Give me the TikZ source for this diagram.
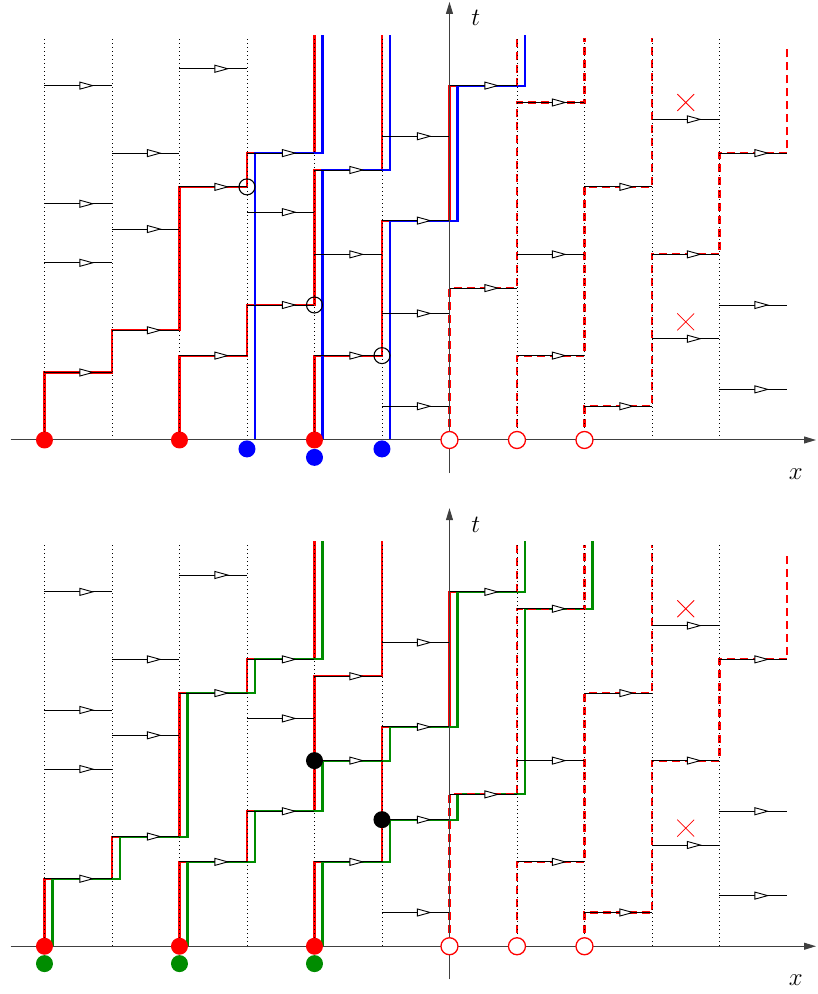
\documentclass[tikz,border=0pt]{standalone}
\usetikzlibrary{arrows.meta, decorations.markings}

\newcommand{\labelfont}{\fontsize{34}{40}\selectfont}

% clocks, holes and axes shared by both panels
\newcommand{\clockpanel}[1]{%
  \draw[hole] (0,0) -- (0,9) -- (1,9) -- (1,20) -- (2,20) -- (2,23.8);
  \draw[hole] (1,0) -- (1,5) -- (2,5) -- (2,15) -- (3,15) -- (3,23.8);
  \draw[hole] (2,0) -- (2,2) -- (3,2) -- (3,11) -- (4,11) -- (4,17) -- (5,17) -- (5,23.4);
  \draw[hole] (1,21) -- (1,23.8);
  \foreach \i in {-6,...,-1,1,2,3,4}
    \draw[column] (\i,0) -- (\i,23.8);
  \foreach \i/\t in {-6/21,-6/14,-6/10.5,-6/4, -5/17,-5/12.5,-5/6.5,
                     -4/22,-4/15,-4/5, -3/17,-3/13.5,-3/8, -2/16,-2/11,-2/5,
                     -1/18,-1/13,-1/7.5,-1/2, 0/21,0/9, 1/20,1/11,1/5,
                     2/15,2/2, 3/19,3/11,3/6, 4/17,4/8,4/3}
    \draw[clock] (\i,\t) -- ++(1,0);
  \foreach \t in {20,7}
    \draw[cross] (3.375,\t-0.5) -- (3.625,\t+0.5) (3.375,\t+0.5) -- (3.625,\t-0.5);
  \draw[axis] (-6.5,0) -- (5.43,0);
  \draw[axis] (0,-1.96) -- (0,25.96);
  \node[font=\labelfont] (t#1) at (0.39,25) {$t$};
  \node[font=\labelfont] (x#1) at (5.13,-2) {$x$};
  \foreach \i in {0,1,2}
    \node[site, draw=red, fill=white, line width=1.3pt] (h#1\i) at (\i,0) {};
}

\begin{document}
\begin{tikzpicture}[x=67.5pt, y=16.875pt,
    column/.style={line width=0.9pt, dash pattern=on 0.9pt off 3.1pt},
    clock/.style={line width=0.9pt, postaction=decorate,
      decoration={markings, mark=at position 0.74 with
        {\arrow{Triangle[length=15pt, width=8pt, fill=white]}}}},
    axis/.style={black!75, line width=1pt, -{Triangle[length=12pt, width=7pt]}},
    walk/.style={line width=2.1pt},
    hole/.style={red, line width=2.1pt, dash pattern=on 8pt off 5pt},
    cross/.style={red, line width=0.8pt},
    site/.style={circle, inner sep=0pt, minimum size=17pt},
    ring/.style={circle, draw, line width=1.1pt, inner sep=0pt, minimum size=16pt},
  ]
  \useasboundingbox (-6.659,-32.83) rectangle (5.459,26.074);

  % upper panel
  \draw[walk, red] (-6,0) -- (-6,4) -- (-5,4) -- (-5,6.5) -- (-4,6.5) -- (-4,15)
    -- (-3,15) -- (-3,17) -- (-2,17) -- (-2,24);
  \draw[walk, red] (-4,0) -- (-4,5) -- (-3,5) -- (-3,8) -- (-2,8) -- (-2,16)
    -- (-1,16) -- (-1,24);
  \draw[walk, red] (-2,0) -- (-2,5) -- (-1,5) -- (-1,13) -- (0,13) -- (0,21) -- (1,21);
  \begin{scope}[xshift=8pt]
    \draw[walk, blue] (-3,0) -- (-3,17) -- (-2,17) -- (-2,24);
    \draw[walk, blue] (-2,0) -- (-2,16) -- (-1,16) -- (-1,24);
    \draw[walk, blue] (-1,0) -- (-1,13) -- (0,13) -- (0,21) -- (1,21) -- (1,24);
  \end{scope}
  \clockpanel{a}
  \foreach \i in {-6,-4,-2}
    \node[site, fill=red] (ra\i) at (\i,0) {};
  \node[site, fill=blue] (b1) at (-3,-0.53) {};
  \node[site, fill=blue] (b2) at (-2,-1.03) {};
  \node[site, fill=blue] (b3) at (-1,-0.53) {};
  \node[ring] (c1) at (-3,15) {};
  \node[ring] (c2) at (-2,8) {};
  \node[ring] (c3) at (-1,5) {};

  % lower panel
  \begin{scope}[shift={(0,-30)}]
    \draw[walk, red] (-6,0) -- (-6,4) -- (-5,4) -- (-5,6.5) -- (-4,6.5) -- (-4,15)
      -- (-3,15) -- (-3,17) -- (-2,17) -- (-2,24);
    \draw[walk, red] (-4,0) -- (-4,5) -- (-3,5) -- (-3,8) -- (-2,8) -- (-2,16)
      -- (-1,16) -- (-1,24);
    \draw[walk, red] (-2,0) -- (-2,5) -- (-1,5) -- (-1,13) -- (0,13) -- (0,21) -- (1,21);
    \begin{scope}[xshift=8pt]
      \draw[walk, green!55!black] (-6,0) -- (-6,4) -- (-5,4) -- (-5,6.5) -- (-4,6.5)
        -- (-4,15) -- (-3,15) -- (-3,17) -- (-2,17) -- (-2,24);
      \draw[walk, green!55!black] (-4,0) -- (-4,5) -- (-3,5) -- (-3,8) -- (-2,8)
        -- (-2,11) -- (-1,11) -- (-1,13) -- (0,13) -- (0,21) -- (1,21) -- (1,24);
      \draw[walk, green!55!black] (-2,0) -- (-2,5) -- (-1,5) -- (-1,7.5) -- (0,7.5)
        -- (0,9) -- (1,9) -- (1,20) -- (2,20) -- (2,24);
    \end{scope}
    \clockpanel{b}
    \foreach \i in {-6,-4,-2} {
      \node[site, fill=red] (rb\i) at (\i,0) {};
      \node[site, fill=green!55!black] (g\i) at (\i,-1.03) {};
    }
    \node[site, fill=black] (k1) at (-2,11) {};
    \node[site, fill=black] (k2) at (-1,7.5) {};
  \end{scope}
\end{tikzpicture}
\end{document}
